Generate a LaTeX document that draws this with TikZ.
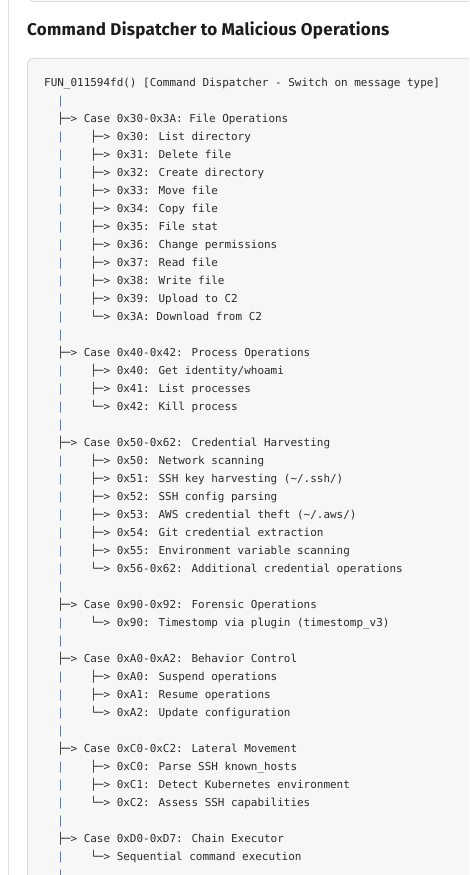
\documentclass[tikz,border=0pt]{standalone}
\usepackage{fontspec}
\setmainfont{Fira Sans}
\newfontfamily\codefont{DejaVu Sans Mono}
\definecolor{codebg}{HTML}{F7F7F7}
\definecolor{edgegray}{HTML}{DDDDDD}
\definecolor{codetext}{HTML}{2B2B2B}
\definecolor{titletext}{HTML}{1C1C1C}
\definecolor{pipeblue}{HTML}{3A78C2}
\tikzset{
  edge/.style={draw=edgegray, line width=1pt},
  heading/.style={font={\bfseries\fontsize{17}{20}\selectfont\addfontfeatures{LetterSpace=1.5}}, text=titletext, anchor=base west, inner sep=0pt},
  code/.style={font={\codefont\fontsize{10.96}{18}\selectfont}, text=codetext, anchor=base west, inner sep=0pt},
  trunk/.style={code, text=pipeblue}
}
\begin{document}
\begin{tikzpicture}[x=1pt,y=-1pt]
  \useasboundingbox (0,0) rectangle (469,875);
  \clip (0,0) rectangle (469,875);
  % page frame
  \draw[edge] (8.5,0) -- (8.5,875);
  \draw[edge,rounded corners=5pt] (28.5,-20) -- (28.5,1.5) -- (490,1.5);
  \node[heading] (title) at (27,35.5) {Command Dispatcher to Malicious Operations};
  \draw[edge,fill=codebg,rounded corners=6pt] (27.5,900) -- (27.5,58.5) -- (490,58.5) -- (490,900) -- cycle;

  % code block, one unit of y = one line
  \begin{scope}[shift={(44,86.5)},y=-18pt]
    \node[code] (root) at (0,0) {FUN\_011594fd() [Command Dispatcher - Switch on message type]};
    \foreach \r in {1,3,4,...,14,16,17,18,19,21,22,...,28,30,31,33,34,35,36,38,39,40,41,43,44}
      \node[trunk] (pipe\r) at (13.2,\r) {|};

    \node[code] (case30) at (13.2,2) {├─> Case 0x30-0x3A: File Operations};
    \node[code] (op30) at (46.2,3) {├─> 0x30: List directory};
    \node[code] (op31) at (46.2,4) {├─> 0x31: Delete file};
    \node[code] (op32) at (46.2,5) {├─> 0x32: Create directory};
    \node[code] (op33) at (46.2,6) {├─> 0x33: Move file};
    \node[code] (op34) at (46.2,7) {├─> 0x34: Copy file};
    \node[code] (op35) at (46.2,8) {├─> 0x35: File stat};
    \node[code] (op36) at (46.2,9) {├─> 0x36: Change permissions};
    \node[code] (op37) at (46.2,10) {├─> 0x37: Read file};
    \node[code] (op38) at (46.2,11) {├─> 0x38: Write file};
    \node[code] (op39) at (46.2,12) {├─> 0x39: Upload to C2};
    \node[code] (op3A) at (46.2,13) {└─> 0x3A: Download from C2};

    \node[code] (case40) at (13.2,15) {├─> Case 0x40-0x42: Process Operations};
    \node[code] (op40) at (46.2,16) {├─> 0x40: Get identity/whoami};
    \node[code] (op41) at (46.2,17) {├─> 0x41: List processes};
    \node[code] (op42) at (46.2,18) {└─> 0x42: Kill process};

    \node[code] (case50) at (13.2,20) {├─> Case 0x50-0x62: Credential Harvesting};
    \node[code] (op50) at (46.2,21) {├─> 0x50: Network scanning};
    \node[code] (op51) at (46.2,22) {├─> 0x51: SSH key harvesting (\textasciitilde/.ssh/)};
    \node[code] (op52) at (46.2,23) {├─> 0x52: SSH config parsing};
    \node[code] (op53) at (46.2,24) {├─> 0x53: AWS credential theft (\textasciitilde/.aws/)};
    \node[code] (op54) at (46.2,25) {├─> 0x54: Git credential extraction};
    \node[code] (op55) at (46.2,26) {├─> 0x55: Environment variable scanning};
    \node[code] (op56) at (46.2,27) {└─> 0x56-0x62: Additional credential operations};

    \node[code] (case90) at (13.2,29) {├─> Case 0x90-0x92: Forensic Operations};
    \node[code] (op90) at (46.2,30) {└─> 0x90: Timestomp via plugin (timestomp\_v3)};

    \node[code] (caseA0) at (13.2,32) {├─> Case 0xA0-0xA2: Behavior Control};
    \node[code] (opA0) at (46.2,33) {├─> 0xA0: Suspend operations};
    \node[code] (opA1) at (46.2,34) {├─> 0xA1: Resume operations};
    \node[code] (opA2) at (46.2,35) {└─> 0xA2: Update configuration};

    \node[code] (caseC0) at (13.2,37) {├─> Case 0xC0-0xC2: Lateral Movement};
    \node[code] (opC0) at (46.2,38) {├─> 0xC0: Parse SSH known\_hosts};
    \node[code] (opC1) at (46.2,39) {├─> 0xC1: Detect Kubernetes environment};
    \node[code] (opC2) at (46.2,40) {└─> 0xC2: Assess SSH capabilities};

    \node[code] (caseD0) at (13.2,42) {├─> Case 0xD0-0xD7: Chain Executor};
    \node[code] (opD0) at (46.2,43) {└─> Sequential command execution};
  \end{scope}
\end{tikzpicture}
\end{document}
